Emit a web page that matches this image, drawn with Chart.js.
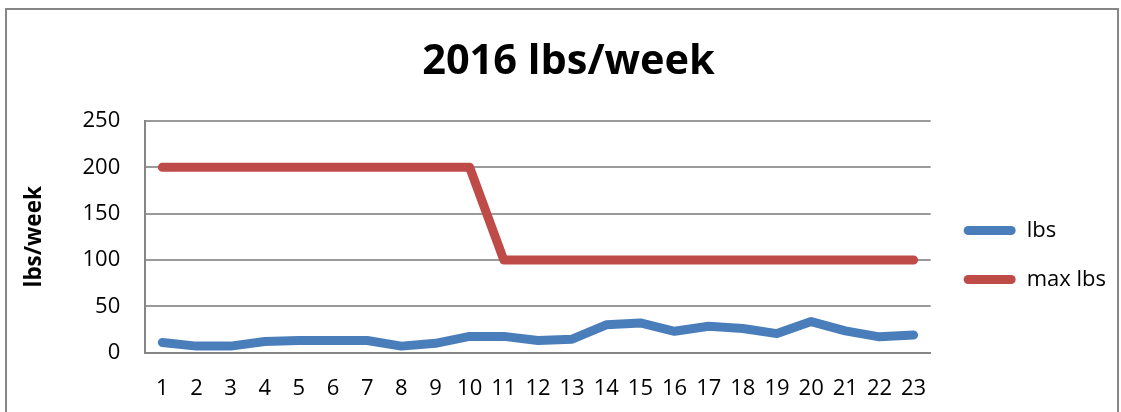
<!DOCTYPE html>
<html>
<head>
<meta charset="utf-8">
<script src="https://cdn.jsdelivr.net/npm/chart.js@4.4.0/dist/chart.umd.min.js"></script>
<style>
  html, body { margin: 0; padding: 0; background: #fff; overflow: hidden; }
  #frame {
    position: absolute; left: 5px; top: 8px;
    width: 1110px; height: 420px;
    border: 2px solid #868686;
  }
  #chart { position: absolute; left: 0; top: 0; }
</style>
</head>
<body>
<div id="frame"></div>
<canvas id="chart" width="1121" height="425"></canvas>
<script>
"use strict";

const weeks = ["1", "2", "3", "4", "5", "6", "7", "8", "9", "10", "11", "12",
  "13", "14", "15", "16", "17", "18", "19", "20", "21", "22", "23"];
const lbs = [11, 7, 7, 12, 13, 13, 13, 7, 10, 17.5, 17.5, 13, 14.5,
  30, 32, 23, 28.5, 26, 20.5, 33.5, 23.5, 17, 19];
const maxLbs = [200, 200, 200, 200, 200, 200, 200, 200, 200, 200, 100, 100,
  100, 100, 100, 100, 100, 100, 100, 100, 100, 100, 100];

const FONT = "'Open Sans', 'DejaVu Sans', sans-serif";
const BLUE = "#4a7ebb";
const RED = "#be4b48";

function lineSet(label, data, color) {
  return {
    label,
    data,
    borderColor: color,
    backgroundColor: color,
    borderWidth: 9,
    borderCapStyle: "round",
    borderJoinStyle: "round",
    pointRadius: 0,
    tension: 0,
  };
}

function legendLabels(chart) {
  return Chart.defaults.plugins.legend.labels.generateLabels(chart)
    .map(item => ({ ...item, lineWidth: 0 }));
}

new Chart(document.getElementById("chart"), {
  type: "line",
  data: {
    labels: weeks,
    datasets: [lineSet("lbs", lbs, BLUE), lineSet("max lbs", maxLbs, RED)],
  },
  options: {
    responsive: false,
    animation: false,
    devicePixelRatio: 1,
    layout: { padding: { left: 21, right: 5, top: 0, bottom: 0 } },
    plugins: {
      title: {
        display: true,
        text: "2016 lbs/week",
        color: "#000",
        font: { family: FONT, size: 41.5, weight: "bold" },
        padding: { top: 37.5, bottom: 33.7 },
      },
      legend: {
        position: "right",
        title: { display: true, text: " ", font: { size: 10 }, padding: { top: 0, bottom: 73 } },
        labels: {
          color: "#000",
          font: { family: FONT, size: 22 },
          boxWidth: 52,
          boxHeight: 9,
          useBorderRadius: true,
          borderRadius: 4.5,
          padding: 27,
          generateLabels: legendLabels,
        },
      },
      tooltip: { enabled: false },
    },
    scales: {
      x: {
        offset: true,
        grid: { display: false, drawTicks: false },
        border: { color: "#868686", width: 2 },
        ticks: {
          color: "#000",
          font: { family: FONT, size: 22 },
          padding: 23,
          maxRotation: 0,
          autoSkip: false,
        },
      },
      y: {
        min: 0,
        max: 250,
        grid: { color: "#9a9a9a", lineWidth: 2, drawTicks: false },
        border: { color: "#868686", width: 2 },
        ticks: {
          stepSize: 50,
          color: "#000",
          font: { family: FONT, size: 22 },
          padding: 25,
        },
        title: {
          display: true,
          text: "lbs/week",
          color: "#000",
          font: { family: FONT, size: 22.5, weight: "bold" },
          padding: { top: 0, bottom: 9.5 },
        },
      },
      pad: {
        position: "right",
        grid: { display: false },
        border: { display: false },
        ticks: { display: false },
        afterFit(scale) { scale.width = 6; },
      },
    },
  },
});
</script>
</body>
</html>
